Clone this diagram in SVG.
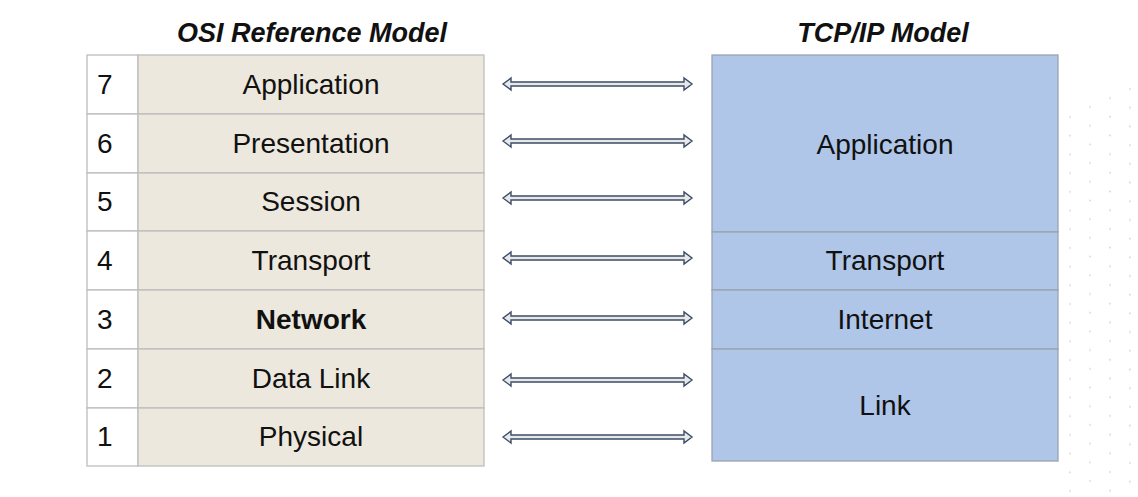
<svg xmlns="http://www.w3.org/2000/svg" width="1138" height="497" viewBox="0 0 1138 497">
<style>
.t{font-family:"Liberation Sans",Arial,sans-serif;font-size:28px;fill:#111}
.title{font-family:"Liberation Sans",Arial,sans-serif;font-size:27px;font-weight:bold;font-style:italic;fill:#111;text-anchor:middle}
.c{text-anchor:middle}
.osi{fill:#ece8dd;stroke:#bdbdbd;stroke-width:1.3}
.num{fill:#ffffff;stroke:#bdbdbd;stroke-width:1.3}
.tcp{fill:#afc6e9;stroke:#9aa3b0;stroke-width:1.3}
.arr{fill:#e8e8e8;stroke:#3c4d68;stroke-width:1.4;stroke-linejoin:miter}
</style>
<defs>
<pattern id="d1" patternUnits="userSpaceOnUse" x="0" y="107.65" width="20" height="18.7"><circle cx="10" cy="9.35" r="1" fill="#dcdcdc"/></pattern>
<pattern id="d2" patternUnits="userSpaceOnUse" x="0" y="97.65" width="20" height="18.7"><circle cx="10" cy="9.35" r="1" fill="#dcdcdc"/></pattern>
<pattern id="d3" patternUnits="userSpaceOnUse" x="0" y="88.65" width="20" height="18.7"><circle cx="10" cy="9.35" r="1.1" fill="#dcdcdc"/></pattern>
<pattern id="d4" patternUnits="userSpaceOnUse" x="0" y="79.65" width="20" height="18.7"><circle cx="10" cy="9.35" r="1.1" fill="#dcdcdc"/></pattern>
</defs>
<rect width="1138" height="497" fill="#ffffff"/>
<g id="dots">
<rect x="1065" y="108" width="20" height="390" fill="url(#d1)"/>
<rect x="1082" y="98" width="20" height="400" fill="url(#d2)"/>
<rect x="1100" y="89" width="20" height="409" fill="url(#d3)"/>
<rect x="1117" y="80" width="20" height="418" fill="url(#d4)"/>
</g>
<text class="title" x="312" y="42">OSI Reference Model</text>
<text class="title" x="883" y="42">TCP/IP Model</text>
<g id="osi">
<g id="osi7"><rect class="num" x="87" y="55" width="51" height="59"/><rect class="osi" x="138" y="55" width="346" height="59"/><text class="t" x="97" y="94">7</text><text class="t c" x="311" y="94">Application</text></g>
<g id="osi6"><rect class="num" x="87" y="114" width="51" height="59"/><rect class="osi" x="138" y="114" width="346" height="59"/><text class="t" x="97" y="153">6</text><text class="t c" x="311" y="153">Presentation</text></g>
<g id="osi5"><rect class="num" x="87" y="173" width="51" height="58"/><rect class="osi" x="138" y="173" width="346" height="58"/><text class="t" x="97" y="211">5</text><text class="t c" x="311" y="211">Session</text></g>
<g id="osi4"><rect class="num" x="87" y="231" width="51" height="59"/><rect class="osi" x="138" y="231" width="346" height="59"/><text class="t" x="97" y="270">4</text><text class="t c" x="311" y="270">Transport</text></g>
<g id="osi3"><rect class="num" x="87" y="290" width="51" height="59"/><rect class="osi" x="138" y="290" width="346" height="59"/><text class="t" x="97" y="329">3</text><text class="t c" x="311" y="329" font-weight="bold">Network</text></g>
<g id="osi2"><rect class="num" x="87" y="349" width="51" height="59"/><rect class="osi" x="138" y="349" width="346" height="59"/><text class="t" x="97" y="388">2</text><text class="t c" x="311" y="388">Data Link</text></g>
<g id="osi1"><rect class="num" x="87" y="408" width="51" height="58"/><rect class="osi" x="138" y="408" width="346" height="58"/><text class="t" x="97" y="446">1</text><text class="t c" x="311" y="446">Physical</text></g>
</g>
<g id="tcp">
<g id="tcp-app"><rect class="tcp" x="712" y="55" width="346" height="177"/><text class="t c" x="885" y="154">Application</text></g>
<g id="tcp-transport"><rect class="tcp" x="712" y="232" width="346" height="58"/><text class="t c" x="885" y="270">Transport</text></g>
<g id="tcp-internet"><rect class="tcp" x="712" y="290" width="346" height="59"/><text class="t c" x="885" y="329">Internet</text></g>
<g id="tcp-link"><rect class="tcp" x="712" y="349" width="346" height="112"/><text class="t c" x="885" y="415">Link</text></g>
</g>
<g id="connectors">
<path class="arr" d="M503,84 L511,78 L511,82 L684,82 L684,78 L692,84 L684,90 L684,86 L511,86 L511,90 Z"/>
<path class="arr" d="M503,141 L511,135 L511,139 L684,139 L684,135 L692,141 L684,147 L684,143 L511,143 L511,147 Z"/>
<path class="arr" d="M503,198 L511,192 L511,196 L684,196 L684,192 L692,198 L684,204 L684,200 L511,200 L511,204 Z"/>
<path class="arr" d="M503,258 L511,252 L511,256 L684,256 L684,252 L692,258 L684,264 L684,260 L511,260 L511,264 Z"/>
<path class="arr" d="M503,318 L511,312 L511,316 L684,316 L684,312 L692,318 L684,324 L684,320 L511,320 L511,324 Z"/>
<path class="arr" d="M503,380 L511,374 L511,378 L684,378 L684,374 L692,380 L684,386 L684,382 L511,382 L511,386 Z"/>
<path class="arr" d="M503,437 L511,431 L511,435 L684,435 L684,431 L692,437 L684,443 L684,439 L511,439 L511,443 Z"/>
</g>
</svg>
